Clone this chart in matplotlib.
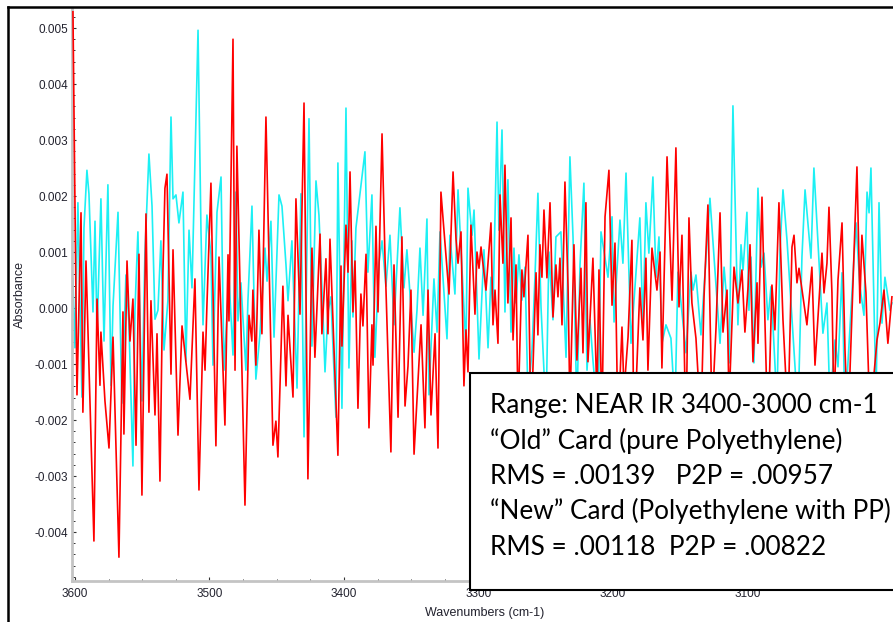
import numpy as np
import matplotlib
matplotlib.use("Agg")
import matplotlib.pyplot as plt
from matplotlib.ticker import FixedLocator, MultipleLocator, FuncFormatter
from matplotlib.patches import Rectangle
from matplotlib.lines import Line2D

# "Old" card (pure polyethylene) - red trace, wavenumber (cm-1) / absorbance (mAbs)
old_wn = [
    3601.5, 3598.5, 3595.5, 3594.1, 3591.8, 3589.6, 3585.9, 3583.6, 3581.4, 3580.7,
    3577.7, 3574.7, 3571.7, 3567.3, 3564.3, 3563.6, 3561.3, 3559.1, 3556.9, 3554.6,
    3552.4, 3550.2, 3547.2, 3545.0, 3543.5, 3540.5, 3539.0, 3536.8, 3534.6, 3533.1,
    3531.6, 3528.6, 3527.1, 3523.4, 3520.4, 3514.5, 3510.8, 3507.8, 3504.8, 3503.3,
    3501.9, 3498.9, 3495.2, 3492.9, 3488.5, 3486.2, 3485.5, 3482.5, 3481.0, 3479.6,
    3473.6, 3470.6, 3468.5, 3467.7, 3465.5, 3463.2, 3461.0, 3458.0, 3452.8, 3450.6,
    3449.1, 3445.4, 3443.1, 3441.6, 3437.9, 3435.7, 3432.7, 3429.7, 3426.8, 3423.8,
    3421.6, 3417.8, 3416.4, 3413.4, 3411.9, 3410.4, 3404.5, 3402.2, 3401.5, 3398.5,
    3397.0, 3395.5, 3393.3, 3391.8, 3389.6, 3387.4, 3385.9, 3383.6, 3381.4, 3379.2,
    3378.4, 3376.2, 3374.7, 3371.7, 3369.5, 3365.1, 3362.8, 3359.8, 3356.9, 3354.6,
    3352.4, 3350.2, 3347.9, 3342.7, 3339.8, 3337.5, 3335.3, 3332.3, 3330.1, 3327.9,
    3321.9, 3318.9, 3316.7, 3315.2, 3313.0, 3310.8, 3309.3, 3307.8, 3305.6, 3302.6,
    3301.1, 3299.6, 3298.1, 3294.4, 3290.7, 3289.2, 3287.7, 3285.5, 3284.0, 3281.8,
    3280.3, 3278.1, 3275.8, 3274.3, 3272.1, 3270.6, 3267.7, 3266.2, 3263.2, 3261.0,
    3257.2, 3255.8, 3254.3, 3252.8, 3251.3, 3249.1, 3246.8, 3244.6, 3242.4, 3240.9,
    3239.4, 3237.9, 3235.7, 3233.4, 3232.0, 3229.0, 3226.8, 3223.8, 3222.3, 3220.1,
    3218.6, 3214.9, 3211.9, 3210.4, 3208.2, 3205.9, 3203.0, 3200.7, 3198.5, 3196.3,
    3193.3, 3191.8, 3188.8, 3185.9, 3184.4, 3180.0, 3177.7, 3175.5, 3174.0, 3171.0,
    3167.3, 3165.0, 3163.6, 3162.1, 3159.8, 3156.1, 3153.2, 3150.9, 3148.7, 3145.7,
    3143.5, 3141.3, 3138.3, 3134.6, 3132.3, 3129.4, 3126.4, 3123.4, 3120.4, 3118.2,
    3115.2, 3113.7, 3110.0, 3107.1, 3104.1, 3101.9, 3099.6, 3098.1, 3095.9, 3092.9,
    3092.2, 3089.2, 3087.0, 3084.8, 3081.8, 3079.6, 3076.6, 3073.6, 3069.9, 3066.9,
    3065.4, 3063.2, 3061.7, 3055.8, 3052.1, 3049.8, 3044.6, 3043.1, 3040.9, 3039.4,
    3037.2, 3035.7, 3032.7, 3029.7, 3027.5, 3025.3, 3018.6, 3016.4, 3014.9, 3011.9,
    3008.9, 3003.7, 3001.5, 2998.5, 2995.6, 2992.6,
]
old_mabs = [
    5.29, -1.55, 1.70, -1.86, 0.84, -1.02, -4.16, 0.16, -1.38, -0.43,
    -1.66, -2.50, -0.52, -4.45, -0.07, -2.25, 0.84, -0.59, 0.16, -2.45,
    0.96, -3.34, 1.68, -1.86, 0.13, -1.91, -0.46, -3.09, 0.64, 2.14,
    2.39, -1.18, 1.04, -2.27, -0.32, -1.63, 0.52, -3.25, -0.43, -1.11,
    0.04, 2.23, -2.46, 0.91, -2.09, 0.95, -0.23, 4.80, -1.11, 2.89,
    -3.52, -0.13, -0.59, 0.32, -1.02, 1.39, -0.46, 3.41, -2.45, -2.02,
    -2.66, 0.39, -1.39, -0.13, -1.59, 1.95, -0.11, 3.66, -3.05, 1.07,
    -0.88, 1.32, -0.46, 0.88, -0.46, 1.23, -2.63, 0.75, -0.68, 1.48,
    0.64, 2.43, -0.07, 0.84, -1.79, 0.25, -0.32, 0.96, -2.14, -0.30,
    -1.02, 1.46, -0.07, 3.11, 0.91, -2.57, 0.77, -1.95, 1.27, -1.75,
    -1.04, 0.32, -2.61, -0.30, -2.14, 0.32, -1.91, -0.46, -2.50, 2.07,
    0.25, 2.43, 1.23, 0.80, 1.36, -1.39, -0.39, -1.14, 1.48, -0.11,
    1.00, 0.71, 1.09, 0.32, 1.52, -0.30, 0.32, -0.63, 2.02, 0.80,
    2.55, 0.09, 1.61, -0.57, 0.77, -1.90, 0.68, 0.20, 1.30, -2.20,
    0.63, -0.48, 1.13, 0.55, 1.75, 0.54, 1.88, -0.16, 0.77, 0.20,
    0.89, -0.30, 2.25, 0.38, -1.80, 1.13, -0.93, 0.71, -0.80, 1.88,
    -0.96, 0.89, -1.60, 0.68, -2.00, 1.63, 2.46, 0.05, 1.16, -2.20,
    -0.34, -1.50, -0.52, 1.21, -2.40, 0.36, -0.57, 0.89, -1.11, 1.07,
    0.32, 1.00, -1.07, 0.41, 2.70, 0.14, 2.86, 0.02, 1.30, -2.30,
    1.61, 0.09, -0.54, -2.10, 0.20, 1.84, -1.90, -0.36, 1.70, -0.43,
    0.32, -1.70, 0.73, 0.09, 0.68, -0.43, 0.36, 1.13, -0.96, 0.45,
    -0.63, 1.98, -0.25, -2.30, 0.41, -0.39, 1.88, -0.21, -2.00, 1.09,
    1.30, 0.45, 0.71, -0.30, 0.73, -1.02, 0.98, 0.27, 0.80, 1.80,
    0.27, -1.80, 0.50, 1.52, -0.75, -2.20, 2.52, 0.09, 1.30, 0.27,
    -2.00, -0.57, -0.27, 0.32, -0.63, 0.20,
]

# "New" card (polyethylene with PP) - cyan trace
new_wn = [
    3601.5, 3600.0, 3597.8, 3594.8, 3593.3, 3591.1, 3589.6, 3586.6, 3585.1, 3583.6,
    3580.7, 3578.4, 3575.5, 3573.2, 3571.7, 3568.0, 3565.1, 3562.1, 3559.9, 3556.9,
    3555.4, 3553.2, 3550.2, 3548.0, 3545.0, 3542.7, 3540.5, 3538.3, 3536.1, 3533.8,
    3530.9, 3528.6, 3527.1, 3524.9, 3522.7, 3519.7, 3517.5, 3515.2, 3513.0, 3508.5,
    3506.3, 3504.8, 3501.9, 3498.9, 3497.4, 3494.4, 3491.4, 3489.2, 3485.5, 3482.5,
    3480.3, 3478.8, 3476.6, 3472.9, 3471.4, 3468.4, 3465.5, 3462.5, 3458.7, 3457.2,
    3454.3, 3452.0, 3448.3, 3446.1, 3443.1, 3441.6, 3438.7, 3434.9, 3432.0, 3429.7,
    3426.0, 3423.8, 3420.8, 3418.6, 3416.4, 3414.1, 3411.9, 3409.7, 3406.0, 3404.5,
    3401.5, 3398.5, 3396.3, 3394.1, 3393.3, 3391.1, 3384.4, 3382.2, 3379.2, 3377.0,
    3374.0, 3371.7, 3368.8, 3365.8, 3362.8, 3358.4, 3355.4, 3353.2, 3350.9, 3347.9,
    3345.7, 3343.5, 3341.2, 3338.3, 3336.8, 3333.1, 3330.8, 3328.6, 3323.4, 3321.2,
    3317.5, 3315.2, 3312.2, 3309.3, 3307.8, 3304.8, 3303.3, 3299.6, 3295.9, 3292.9,
    3290.7, 3289.2, 3286.2, 3284.8, 3282.5, 3280.3, 3278.1, 3275.8, 3273.6, 3272.1,
    3269.9, 3267.7, 3265.4, 3263.2, 3260.2, 3258.0, 3255.8, 3253.5, 3249.8, 3247.6,
    3244.6, 3242.4, 3238.7, 3234.9, 3232.0, 3229.7, 3226.8, 3224.5, 3221.6, 3219.3,
    3217.1, 3214.9, 3211.1, 3208.9, 3203.7, 3200.7, 3199.2, 3197.0, 3194.8, 3192.6,
    3190.3, 3186.6, 3180.0, 3177.7, 3175.5, 3173.3, 3170.3, 3168.0, 3165.8, 3163.6,
    3160.6, 3156.9, 3153.9, 3151.7, 3145.7, 3142.0, 3140.5, 3138.3, 3134.6, 3127.9,
    3120.4, 3117.4, 3115.9, 3113.6, 3110.8, 3107.1, 3104.8, 3103.3, 3100.4, 3098.9,
    3097.4, 3095.2, 3092.2, 3089.9, 3087.7, 3084.8, 3082.5, 3078.1, 3075.8, 3073.6,
    3070.6, 3062.4, 3059.5, 3057.2, 3052.8, 3050.6, 3043.9, 3040.9, 3038.7, 3034.9,
    3032.7, 3029.7, 3027.5, 3019.3, 3016.4, 3013.4, 3011.1, 3009.6, 3008.2, 3004.4,
    3002.2, 3000.0, 2997.8, 2994.1, 2992.6,
]
new_mabs = [
    0.52, -0.71, 1.88, -1.59, 1.43, 2.46, 2.04, -0.07, 1.55, -0.48,
    1.95, -0.59, 2.20, -1.38, 0.04, 1.71, -1.70, 0.59, -0.27, -2.82,
    -0.04, 1.36, -1.66, 0.96, 2.75, 1.82, -0.20, -0.04, 1.20, -0.75,
    0.13, 3.41, 1.95, 2.02, 1.52, 2.07, -0.95, 1.39, 0.36, 4.96,
    1.36, -0.30, 1.66, 0.96, -1.02, 1.71, 2.34, -1.11, 0.55, -0.84,
    2.07, -0.23, 0.45, -1.11, 0.13, 1.82, -1.27, -0.48, 1.07, 0.48,
    1.55, -0.52, 2.02, 1.82, 0.77, 0.13, 1.20, -1.43, 2.04, -2.30,
    3.38, -0.68, 2.27, 1.66, 0.39, -1.14, -0.07, 0.20, -1.95, 2.59,
    -1.79, 3.57, -1.07, 1.20, -0.16, 1.43, 2.79, 0.64, 2.02, -0.88,
    0.80, 1.20, 0.39, 1.30, -0.30, 1.79, 0.36, 1.04, 0.25, -0.79,
    -0.04, 1.07, -0.13, 1.59, -1.55, 0.52, -0.43, 1.36, -0.55, 1.30,
    0.25, 2.11, 0.68, -0.71, 2.14, 1.30, 1.75, -0.91, 1.04, -0.71,
    0.55, -0.04, 3.32, 1.39, 3.18, -0.07, 2.29, -0.43, 1.07, 0.09,
    0.95, 0.14, 0.73, -1.60, -0.75, 0.55, 2.05, 0.02, -1.90, 1.00,
    -0.21, 1.27, 1.36, -0.88, 2.70, 1.27, -1.80, 0.77, 2.23, -1.11,
    -0.21, -0.93, -2.00, 1.36, 0.55, 1.63, -0.25, 0.68, 1.57, 0.80,
    2.41, -0.63, 1.61, -0.34, 1.88, 0.98, 2.34, 0.55, 1.27, -0.63,
    -0.30, -0.54, -1.80, 0.64, -0.80, 0.64, 0.32, 0.59, -0.48, 1.96,
    -0.63, 0.73, 0.29, -0.98, 3.61, -0.30, 1.13, 0.68, 1.71, -0.04,
    0.91, -0.98, 2.14, 0.73, 0.98, -0.21, 0.38, -1.70, 1.04, 2.11,
    1.21, -1.90, 0.91, 2.11, 0.89, 2.50, -0.45, 0.09, -1.70, -0.57,
    -1.05, 0.63, -1.90, 1.52, 0.38, -0.13, 2.07, 1.70, 2.50, -1.60,
    1.88, -0.27, 0.55, -0.04, 0.09,
]

x_ticks = [3600, 3500, 3400, 3300, 3200, 3100]
y_ticks = [-0.004, -0.003, -0.002, -0.001, 0.0, 0.001, 0.002, 0.003, 0.004, 0.005]

box_lines = [
    "Range: NEAR IR 3400-3000 cm-1",
    "\u201cOld\u201d Card (pure Polyethylene)",
    "RMS = .00139   P2P = .00957",
    "\u201cNew\u201d Card (Polyethylene with PP)",
    "RMS = .00118  P2P = .00822",
]

W, H = 893, 622
fig = plt.figure(figsize=(W / 100, H / 100), dpi=100)
fig.patch.set_facecolor("white")

# plot area: px 72..893 horizontally, py 9..581 vertically
ax = fig.add_axes([72 / W, (H - 581) / H, (W - 72) / W, 572 / H])

ax.plot(new_wn, np.array(new_mabs) / 1000, color="#1cf0f4", lw=1.2, zorder=2)
ax.plot(old_wn, np.array(old_mabs) / 1000, color="#ff0000", lw=1.2, zorder=3)

ax.set_xlim(3602.2, 2991.8)
ax.set_ylim(-0.004875, 0.00534)

ax.xaxis.set_major_locator(FixedLocator(x_ticks))
ax.xaxis.set_minor_locator(MultipleLocator(25))
ax.yaxis.set_major_locator(FixedLocator(y_ticks))
ax.yaxis.set_minor_locator(MultipleLocator(0.0002))
ax.yaxis.set_major_formatter(FuncFormatter(lambda v, p: f"{v:.3f}".replace("-0.000", "0.000")))
ax.xaxis.set_major_formatter(FuncFormatter(lambda v, p: f"{v:.0f}"))

lab_font = dict(family="Liberation Sans", size=9, color="#22222e")
for lbl in ax.get_xticklabels() + ax.get_yticklabels():
    lbl.set_fontfamily("Liberation Sans")
ax.tick_params(axis="both", which="major", direction="in", length=3, width=0.8,
               color="#333333", labelsize=8.5, labelcolor="#22222e")
ax.tick_params(axis="both", which="minor", direction="in", length=1.8, width=0.7,
               color="#333333")
ax.tick_params(axis="y", pad=3)
ax.tick_params(axis="x", pad=5)

ax.set_ylabel("Absorbance", fontdict=lab_font)
ax.set_xlabel("Wavenumbers (cm-1)", fontdict=lab_font)
ax.yaxis.set_label_coords(-0.056, 0.50)
ax.xaxis.set_label_coords(0.503, -0.045)

for side in ["top", "right"]:
    ax.spines[side].set_visible(False)
for side in ["left", "bottom"]:
    ax.spines[side].set_color("#c4c4c4")
    ax.spines[side].set_linewidth(2.0)

# outer black frame (top and left edges)
fig.add_artist(Line2D([8 / W, 1.0], [(H - 7) / H, (H - 7) / H], color="black", lw=1.8,
                      transform=fig.transFigure))
fig.add_artist(Line2D([8 / W, 8 / W], [0.0, (H - 7) / H], color="black", lw=1.8,
                      transform=fig.transFigure))

# annotation box
box = Rectangle((470 / W, (H - 590) / H), 0.6, 217 / H, transform=fig.transFigure,
                facecolor="white", edgecolor="black", lw=1.5, zorder=10)
fig.add_artist(box)
baselines = [413, 449, 484, 519, 555]
for txt, yb in zip(box_lines, baselines):
    fig.text(490 / W, (H - yb) / H, txt, fontsize=18.8, family="Lato", color="black",
             va="baseline", ha="left", zorder=11)

fig.savefig("out.png", dpi=100)
